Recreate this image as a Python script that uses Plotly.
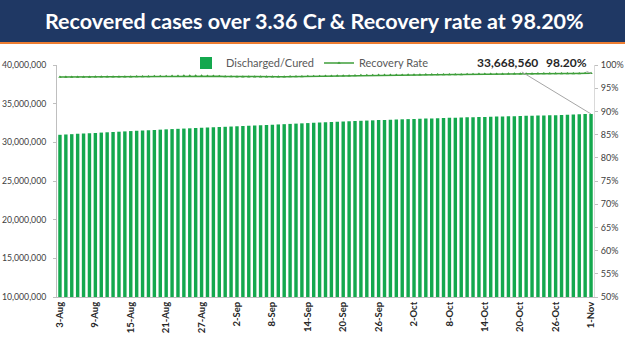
import plotly.graph_objects as go

dates = (
    [f"{d}-Aug" for d in range(3, 32)]
    + [f"{d}-Sep" for d in range(1, 31)]
    + [f"{d}-Oct" for d in range(1, 32)]
    + ["1-Nov"]
)

discharged = [
    # Aug 3 - Aug 31
    30974748, 31015844, 31055861, 31099771, 31139457, 31180968, 31220981,
    31260050, 31299091, 31337844, 31374688, 31413718, 31455969, 31492676,
    31533681, 31569479, 31605679, 31641476, 31679469, 31715105, 31747499,
    31780253, 31811658, 31844458, 31879735, 31913960, 31948329, 31980464,
    32009961,
    # Sep 1 - Sep 30
    32042143, 32077298, 32110000, 32145215, 32178822, 32213200, 32247085,
    32280370, 32315000, 32349000, 32384000, 32420000, 32455000, 32488000,
    32525000, 32558000, 32591000, 32625000, 32660000, 32693000, 32725000,
    32756000, 32786000, 32815000, 32843000, 32872000, 32900000, 32928000,
    32953000, 32979000,
    # Oct 1 - Oct 31
    33002000, 33026000, 33050000, 33073000, 33096000, 33120000, 33142000,
    33164000, 33186000, 33209000, 33231000, 33251000, 33271000, 33291000,
    33311000, 33330000, 33349000, 33368000, 33388000, 33408000, 33428000,
    33447000, 33464000, 33481000, 33499000, 33518000, 33549000, 33578000,
    33606000, 33631000, 33652000,
    # Nov 1
    33668560,
]

recovery_rate = [
    # Aug 3 - Aug 31
    97.39, 97.40, 97.40, 97.40, 97.40, 97.40, 97.45,
    97.45, 97.45, 97.45, 97.45, 97.46, 97.48, 97.51,
    97.52, 97.53, 97.55, 97.57, 97.60, 97.63, 97.65,
    97.66, 97.67, 97.68, 97.67, 97.64, 97.63, 97.60, 97.53,
    # Sep 1 - Sep 30
    97.51, 97.48, 97.46, 97.45, 97.45, 97.46, 97.48,
    97.48, 97.49, 97.49, 97.51, 97.52, 97.54, 97.55,
    97.57, 97.60, 97.63, 97.65, 97.67, 97.68, 97.70,
    97.74, 97.77, 97.78, 97.80, 97.82, 97.84, 97.85, 97.86, 97.87,
    # Oct 1 - Oct 31
    97.88, 97.89, 97.91, 97.93, 97.94, 97.95, 97.95,
    97.95, 97.96, 97.97, 97.99, 98.01, 98.04, 98.04,
    98.07, 98.08, 98.08, 98.10, 98.12, 98.13, 98.14,
    98.14, 98.15, 98.16, 98.16, 98.16, 98.17, 98.18, 98.19, 98.19, 98.20,
    # Nov 1
    98.20,
]

tick_labels = ["3-Aug", "9-Aug", "15-Aug", "21-Aug", "27-Aug", "2-Sep", "8-Sep",
               "14-Sep", "20-Sep", "26-Sep", "2-Oct", "8-Oct", "14-Oct",
               "20-Oct", "26-Oct", "1-Nov"]

title_text = "Recovered cases over 3.36 Cr & Recovery rate at 98.20%"
last_value_label = "33,668,560"
last_rate_label = "98.20%"

FONT = "Lato"
BAR_COLOR = "#14A84E"
LINE_COLOR = "#3E9E3A"
TEXT_COLOR = "#404040"

fig = go.Figure()
fig.add_trace(go.Bar(
    x=dates, y=discharged, name="Discharged/Cured",
    marker=dict(color=BAR_COLOR, line=dict(width=0)),
))
fig.add_trace(go.Scatter(
    x=dates, y=recovery_rate, name="Recovery Rate", yaxis="y2",
    mode="lines+markers",
    line=dict(color=LINE_COLOR, width=1.5),
    marker=dict(symbol="triangle-up", size=3, color=LINE_COLOR),
))

W, H = 625, 351
L, R, T, B = 57, 31, 65, 54
pw, ph = W - L - R, H - T - B

def py(pix):  # pixel y from top -> paper y
    return 1 + (T - pix) / ph

def px(pix):  # pixel x from left -> paper x
    return (pix - L) / pw

fig.update_layout(
    width=W, height=H,
    margin=dict(l=L, r=R, t=T, b=B, autoexpand=False),
    paper_bgcolor="white", plot_bgcolor="white",
    font=dict(family=FONT, color=TEXT_COLOR, size=10),
    bargap=0.42,
    showlegend=True,
    legend=dict(
        orientation="h", x=px(186), xanchor="left", y=py(63), yanchor="middle",
        font=dict(size=11, color="#595959", family=FONT),
        bgcolor="rgba(0,0,0,0)", itemwidth=30, tracegroupgap=0,
    ),
    xaxis=dict(
        type="category", tickmode="array", tickvals=tick_labels, ticktext=tick_labels,
        tickangle=-90, tickfont=dict(size=9.5, color="#262626", family=FONT, weight="bold"),
        showgrid=False, showline=True, linecolor="#BFBFBF", linewidth=1,
        ticks="", range=[-0.5, len(dates) - 0.5], automargin=False,
    ),
    yaxis=dict(
        range=[10_000_000, 40_000_000], dtick=5_000_000, tickformat=",d",
        showgrid=False, showline=True, linecolor="#BFBFBF", linewidth=1,
        ticks="outside", ticklen=3, tickcolor="#BFBFBF", ticklabelstandoff=5,
        tickfont=dict(size=8.7, color=TEXT_COLOR, family=FONT),
        zeroline=False, automargin=False,
    ),
    yaxis2=dict(
        overlaying="y", side="right", range=[50, 100], dtick=5, ticksuffix="%",
        showgrid=False, showline=True, linecolor="#D9D9D9", linewidth=1,
        ticks="outside", ticklen=3, tickcolor="#BFBFBF", ticklabelstandoff=1,
        tickfont=dict(size=9, color=TEXT_COLOR, family=FONT),
        zeroline=False, automargin=False,
    ),
    shapes=[
        dict(type="rect", xref="paper", yref="paper",
             x0=-0.2, x1=1.2, y0=py(42), y1=py(-5),
             fillcolor="#1F3864", line=dict(width=0), layer="above"),
        dict(type="line", xref="paper", yref="paper",
             x0=-0.2, x1=1.2, y0=py(43), y1=py(43),
             line=dict(color="#ED7D31", width=2)),
    ],
    annotations=[
        dict(text=f"<b>{title_text}</b>", xref="paper", yref="paper",
             x=px(314), y=py(21), xanchor="center", yanchor="middle",
             showarrow=False, font=dict(size=21.5, color="white", family=FONT)),
        dict(text=f"<b>{last_value_label}</b>", x=dates[-1], y=discharged[-1],
             xref="x", yref="y", showarrow=True, arrowhead=0, arrowwidth=1,
             arrowcolor="#A6A6A6", ax=-84, ay=-51,
             font=dict(size=12, color="#262626", family=FONT)),
        dict(text=f"<b>{last_rate_label}</b>", x=dates[-1], y=recovery_rate[-1],
             xref="x", yref="y2", showarrow=True, arrowhead=0, arrowwidth=1,
             arrowcolor="#A6A6A6", ax=-25, ay=-11,
             font=dict(size=12, color="#262626", family=FONT)),
    ],
)

fig.write_html("out.html")
